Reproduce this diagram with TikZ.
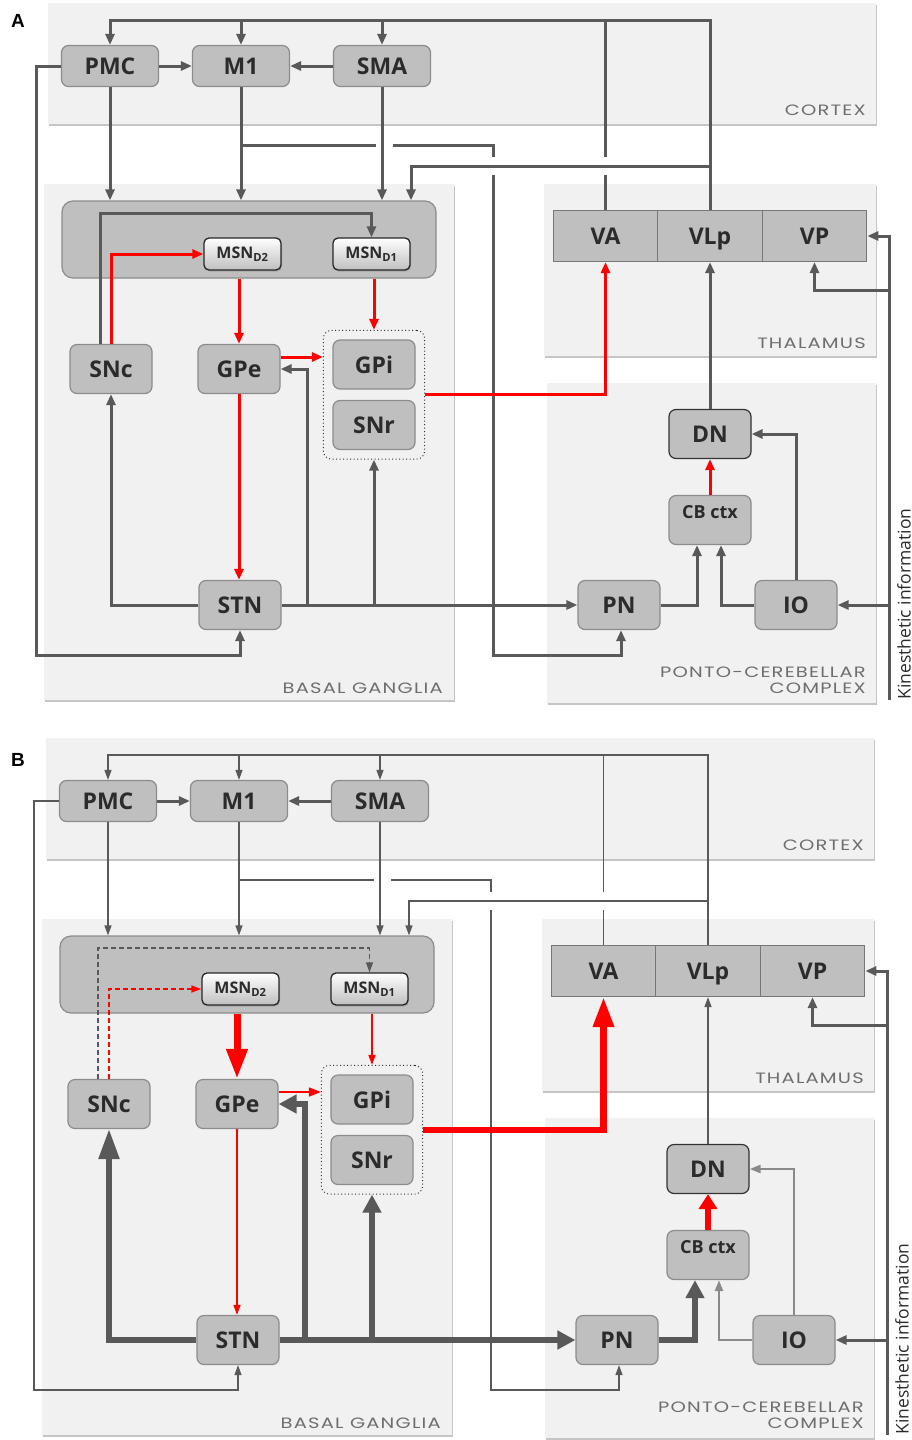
\documentclass[tikz,border=0pt]{standalone}
\usepackage{fontspec}
\setsansfont{Open Sans}
\newfontfamily\regionfont[FakeStretch=1.3,LetterSpace=8]{Poppins}
\newfontfamily\panelfont{Liberation Sans}
\usetikzlibrary{arrows.meta,shadows,fit}

\definecolor{linegray}{HTML}{595959}
\definecolor{midgray}{HTML}{8A8A8A}
\definecolor{nodefill}{HTML}{BFBFBF}
\definecolor{nodeborder}{HTML}{8C8C8C}
\definecolor{regionfill}{HTML}{F1F1F1}
\definecolor{textdark}{HTML}{2B2B2B}
\definecolor{labelgray}{HTML}{6E6E6E}

\tikzset{
  region/.style={fill=regionfill, drop shadow={shadow xshift=1pt, shadow yshift=-2pt, fill=black!45, opacity=0.5}},
  regionlabel/.style={anchor=base east, inner sep=0pt, text=labelgray, font=\regionfont\fontsize{15}{17}\selectfont},
  panel/.style={inner sep=0pt, font=\panelfont\bfseries\fontsize{19}{22}\selectfont},
  area/.style={rectangle, rounded corners=7pt, draw=nodeborder, line width=1.2pt, fill=nodefill,
    text=textdark, inner sep=0pt, minimum width=82pt, minimum height=49pt, text height=17pt, text depth=0pt,
    font=\sffamily\bfseries\fontsize{23}{26}\selectfont},
  ctxarea/.style={area, minimum width=97pt, minimum height=41pt},
  striatum/.style={area, rounded corners=11pt, minimum width=374pt, minimum height=77pt},
  msn/.style={rectangle, rounded corners=5pt, draw=black!85, line width=1.3pt, top color=white,
    bottom color=black!25, minimum width=77pt, minimum height=32pt, inner sep=0pt, text=textdark,
    font=\sffamily\bfseries\fontsize{16}{18}\selectfont,
    drop shadow={shadow xshift=1pt, shadow yshift=-1.5pt, opacity=0.4}},
  nucleus/.style={rectangle, draw=nodeborder!85!black, line width=1.2pt, fill=nodefill,
    minimum width=104.5pt, minimum height=51pt, inner sep=0pt, text=textdark, text height=17pt, text depth=0pt,
    font=\sffamily\bfseries\fontsize{23}{26}\selectfont},
  cbarea/.style={area, text height=13pt, text depth=16pt, font=\sffamily\bfseries\fontsize{18}{20}\selectfont},
  output/.style={draw=black!80, line width=1pt, dash pattern=on 1pt off 2.5pt, rounded corners=8pt, inner sep=9pt},
  kin/.style={rotate=90, inner sep=0pt, text=textdark, font=\sffamily\fontsize{17.5}{20}\selectfont},
  line/.style={draw=linegray, line width=3pt},
  conn/.style={line, -{Triangle[length=11pt, width=9pt]}},
  rconn/.style={conn, draw=red},
  thin/.style={draw=linegray, line width=1.3pt},
  thinconn/.style={thin, -{Triangle[length=10pt, width=7pt]}},
  rthinconn/.style={thinconn, draw=red, line width=1.6pt},
  heavy/.style={draw=linegray, line width=5.5pt, -{Triangle[length=18pt, width=18pt]}},
  huge/.style={draw=linegray, line width=5.5pt, -{Triangle[length=30pt, width=20pt]}},
  rheavy/.style={heavy, draw=red},
  rhuge/.style={huge, draw=red, line width=6.5pt},
  mid/.style={draw=midgray, line width=2.5pt, -{Triangle[length=11pt, width=8pt]}}
}

\begin{document}
\begin{tikzpicture}[x=1pt, y=-1pt]
\useasboundingbox (0,0) rectangle (912,1440);

%% ---------------- panel A ----------------
\begin{scope}
  \fill[region] (48,3) rectangle (876,124);
  \fill[region] (44,184) rectangle (454,700);
  \fill[region] (544,184) rectangle (876,356);
  \fill[region] (547,383) rectangle (876,703);
  \node[regionlabel] (ctxA) at (866,115) {CORTEX};
  \node[regionlabel] (thalA) at (866,348) {THALAMUS};
  \node[regionlabel] (bgA) at (443,693) {BASAL GANGLIA};
  \node[regionlabel] (pcA) at (866,677) {PONTO-CEREBELLAR};
  \node[regionlabel] (pcxA) at (866,693) {COMPLEX};
  \node[panel] (labA) at (18,21) {A};

  \coordinate (topA) at (0,20);
  \coordinate (kbA) at (889,700);

  % cortex
  \node[ctxarea] (pmcA) at (110,66) {PMC};
  \node[ctxarea] (m1A) at (241,66) {M1};
  \node[ctxarea] (smaA) at (382,66) {SMA};
  % basal ganglia
  \node[striatum] (strA) at (249,239.5) {};
  \node[msn] (d2A) at (242.5,254) {MSN\textsubscript{D2}};
  \node[msn] (d1A) at (371.5,254) {MSN\textsubscript{D1}};
  \node[area] (sncA) at (111,369) {SNc};
  \node[area] (gpeA) at (239,369) {GPe};
  \node[area] (gpiA) at (374,364.5) {GPi};
  \node[area] (snrA) at (374,425) {SNr};
  \node[output, fit=(gpiA)(snrA)] (outA) {};
  \node[area] (stnA) at (240,605) {STN};
  % thalamus
  \node[nucleus] (vaA) at (605.5,236) {VA};
  \node[nucleus] (vlpA) at (710,236) {VLp};
  \node[nucleus] (vpA) at (814.5,236) {VP};
  % ponto-cerebellar complex
  \node[area, draw=black!80] (dnA) at (710,434) {DN};
  \node[cbarea] (cbA) at (710,520) {CB ctx};
  \node[area] (pnA) at (619,605) {PN};
  \node[area] (ioA) at (796,605) {IO};
  \node[kin] (kinA) at (904,604) {Kinesthetic information};

  % thalamus to cortex
  \draw[conn] (vlpA) -- (vlpA.north |- topA) -| (pmcA.north);
  \draw[conn] (m1A |- topA) -- (m1A);
  \draw[conn] (smaA |- topA) -- (smaA);
  \draw[line] (vaA) -- (vaA.north |- 0,175) (vaA.north |- 0,157) -- (vaA.north |- topA);
  \draw[conn] (pmcA) -- (m1A);
  \draw[conn] (smaA) -- (m1A);
  % cortex to striatum, STN and PN
  \draw[conn] (pmcA) -- (pmcA |- strA.north);
  \draw[conn] (m1A) -- (m1A |- strA.north);
  \draw[conn] (smaA) -- (smaA |- strA.north);
  \draw[conn] (m1A |- 0,145) -- (376,145) (393,145) -| (493,157) (493,175) |- (621,655) -- ([xshift=2pt]pnA.south);
  \draw[conn] (pmcA) -| (36,655) -| (stnA);
  \draw[conn] (vlpA.north |- 0,166) -| (strA.north -| 411,0);
  % basal ganglia
  \draw[conn] ([xshift=-11pt]sncA.north) -- (100,213) -| (d1A);
  \draw[rconn] (sncA) |- (d2A);
  \draw[rconn] (gpeA.north |- strA.south) -- (gpeA);
  \draw[rconn] (outA.north |- strA.south) -- (outA);
  \draw[rconn] ([yshift=12pt]gpeA.east) -- ([yshift=12pt]gpeA.east -| outA.west);
  \draw[rconn] (gpeA) -- (gpeA |- stnA.north);
  \draw[conn] (stnA.east -| 307,0) |- (gpeA);
  \draw[conn] (stnA.east -| outA.south) -- (outA);
  \draw[conn] (stnA) -| (sncA);
  \draw[conn] (stnA) -- (pnA);
  \draw[rconn] (outA) -| (vaA);
  % cerebellar loop
  \draw[conn] (dnA) -- (vlpA);
  \draw[rconn] (cbA) -- (dnA);
  \draw[conn] (pnA) -| ([xshift=-13pt]cbA.south);
  \draw[conn] (ioA) -| ([xshift=11pt]cbA.south);
  \draw[conn] (ioA) |- (dnA);
  % kinesthetic input
  \draw[conn] (kbA) |- (vpA);
  \draw[conn] (kbA |- 0,290) -| (vpA);
  \draw[conn] (kbA |- ioA) -- (ioA);
\end{scope}

%% ---------------- panel B ----------------
\begin{scope}[shift={(-2,735)}]
  \fill[region] (48,3) rectangle (876,124);
  \fill[region] (44,184) rectangle (454,700);
  \fill[region] (544,184) rectangle (876,356);
  \fill[region] (547,383) rectangle (876,703);
  \node[regionlabel] (ctxB) at (866,115) {CORTEX};
  \node[regionlabel] (thalB) at (866,348) {THALAMUS};
  \node[regionlabel] (bgB) at (443,693) {BASAL GANGLIA};
  \node[regionlabel] (pcB) at (866,677) {PONTO-CEREBELLAR};
  \node[regionlabel] (pcxB) at (866,693) {COMPLEX};
  \node[panel] (labB) at (20,25) {B};

  \coordinate (topB) at (0,20);
  \coordinate (kbB) at (889,700);

  % cortex
  \node[ctxarea] (pmcB) at (110,66) {PMC};
  \node[ctxarea] (m1B) at (241,66) {M1};
  \node[ctxarea] (smaB) at (382,66) {SMA};
  % basal ganglia
  \node[striatum] (strB) at (249,239.5) {};
  \node[msn] (d2B) at (242.5,254) {MSN\textsubscript{D2}};
  \node[msn] (d1B) at (371.5,254) {MSN\textsubscript{D1}};
  \node[area] (sncB) at (111,369) {SNc};
  \node[area] (gpeB) at (239,369) {GPe};
  \node[area] (gpiB) at (374,364.5) {GPi};
  \node[area] (snrB) at (374,425) {SNr};
  \node[output, fit=(gpiB)(snrB)] (outB) {};
  \node[area] (stnB) at (240,605) {STN};
  % thalamus
  \node[nucleus] (vaB) at (605.5,236) {VA};
  \node[nucleus] (vlpB) at (710,236) {VLp};
  \node[nucleus] (vpB) at (814.5,236) {VP};
  % ponto-cerebellar complex
  \node[area, draw=black!80] (dnB) at (710,434) {DN};
  \node[cbarea] (cbB) at (710,520) {CB ctx};
  \node[area] (pnB) at (619,605) {PN};
  \node[area] (ioB) at (796,605) {IO};
  \node[kin] (kinB) at (904,604) {Kinesthetic information};

  % thalamus to cortex
  \draw[thinconn] (vlpB) -- (vlpB.north |- topB) -| (pmcB.north);
  \draw[thinconn] (m1B |- topB) -- (m1B);
  \draw[thinconn] (smaB |- topB) -- (smaB);
  \draw[thin] (vaB) -- (vaB.north |- 0,175) (vaB.north |- 0,157) -- (vaB.north |- topB);
  \draw[conn] (pmcB) -- (m1B);
  \draw[conn] (smaB) -- (m1B);
  % cortex to striatum, STN and PN
  \draw[thinconn] (pmcB) -- (pmcB |- strB.north);
  \draw[thinconn] (m1B) -- (m1B |- strB.north);
  \draw[thinconn] (smaB) -- (smaB |- strB.north);
  \draw[thinconn] (m1B |- 0,145) -- (376,145) (393,145) -| (493,157) (493,175) |- (621,655) -- ([xshift=2pt]pnB.south);
  \draw[thinconn] (pmcB) -| (36,655) -| (stnB);
  \draw[thinconn] (vlpB.north |- 0,166) -| (strB.north -| 411,0);
  % basal ganglia
  \draw[thinconn, dash pattern=on 5pt off 3pt] ([xshift=-11pt]sncB.north) -- (100,213) -| (d1B);
  \draw[rthinconn, dash pattern=on 5pt off 3pt] (sncB) |- (d2B);
  \draw[rhuge, line width=7pt] (gpeB.north |- strB.south) -- (gpeB);
  \draw[rthinconn] (outB.north |- strB.south) -- (outB);
  \draw[rthinconn, -{Triangle[length=12pt, width=9pt]}] ([yshift=12pt]gpeB.east) -- ([yshift=12pt]gpeB.east -| outB.west);
  \draw[rthinconn] (gpeB) -- (gpeB |- stnB.north);
  \draw[heavy] (stnB.east -| 307,0) |- (gpeB);
  \draw[heavy] (stnB.east -| outB.south) -- (outB);
  \draw[huge] (stnB) -| (sncB);
  \draw[heavy] (stnB) -- (pnB);
  \draw[rhuge] (outB) -| (vaB);
  % cerebellar loop
  \draw[thinconn] (dnB) -- (vlpB);
  \draw[rheavy, -{Triangle[length=15pt, width=18pt]}] (cbB) -- (dnB);
  \draw[heavy] (pnB) -| ([xshift=-13pt]cbB.south);
  \draw[mid] (ioB) -| ([xshift=11pt]cbB.south);
  \draw[mid] (ioB) |- (dnB);
  % kinesthetic input
  \draw[conn] (kbB) |- (vpB);
  \draw[conn] (kbB |- 0,290) -| (vpB);
  \draw[conn] (kbB |- ioB) -- (ioB);
\end{scope}
\end{tikzpicture}
\end{document}
